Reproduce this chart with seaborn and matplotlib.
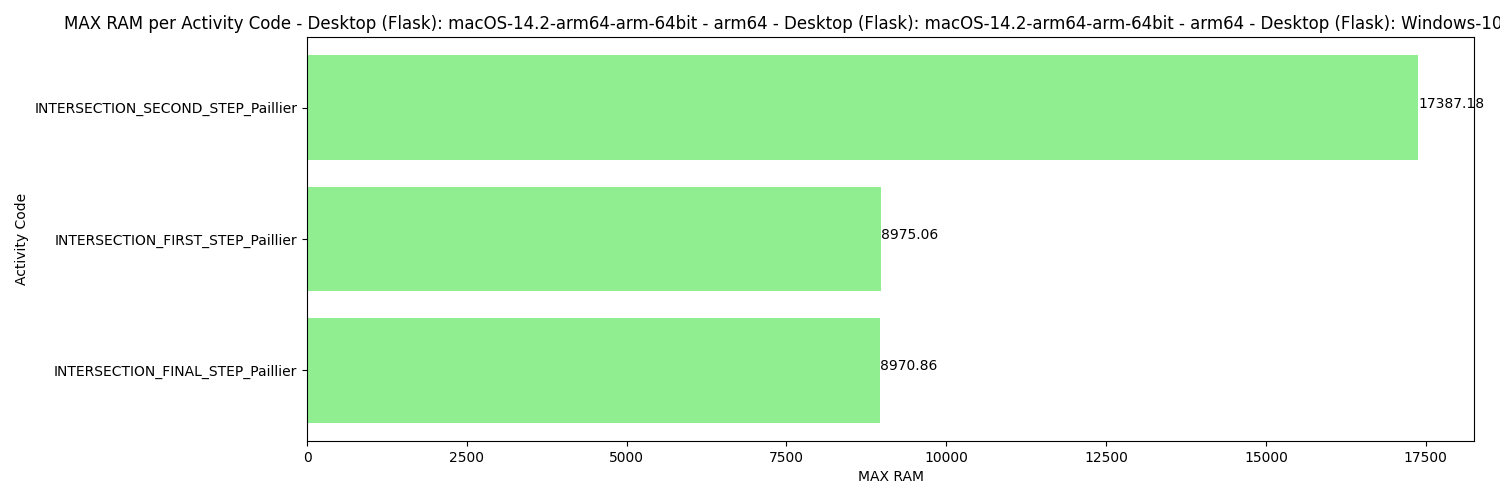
import pandas as pd
import matplotlib
matplotlib.use("Agg")
import matplotlib.pyplot as plt
import seaborn as sns

# Data
activity_codes = [
    "INTERSECTION_SECOND_STEP_Paillier",
    "INTERSECTION_FIRST_STEP_Paillier",
    "INTERSECTION_FINAL_STEP_Paillier",
]
max_ram = [17387.18, 8975.06, 8970.86]

title = ("MAX RAM per Activity Code - Desktop (Flask): macOS-14.2-arm64-arm-64bit - arm64"
         " - Desktop (Flask): macOS-14.2-arm64-arm-64bit - arm64"
         " - Desktop (Flask): Windows-10-10.0.22631-SP0 - AMD64")

df = pd.DataFrame({"Activity Code": activity_codes, "MAX RAM": max_ram})

fig, ax = plt.subplots(figsize=(15, 5), dpi=100)
sns.barplot(data=df, x="MAX RAM", y="Activity Code", color="lightgreen",
            saturation=1, width=0.8, linewidth=0, ax=ax)

# value labels at the end of each bar
for i, v in enumerate(df["MAX RAM"]):
    ax.text(v, i, f"{v:.2f}", fontsize=10)

ax.set_ylim(len(df) - 1 + 0.54, -0.54)
ax.set_xlim(0, max(max_ram) * 1.05)
ax.set_title(title, fontsize=12)
ax.set_xlabel("MAX RAM")
ax.set_ylabel("Activity Code")

plt.subplots_adjust(left=0.2047, right=0.9827, top=0.926, bottom=0.118)
plt.savefig("out.png", dpi=100)
